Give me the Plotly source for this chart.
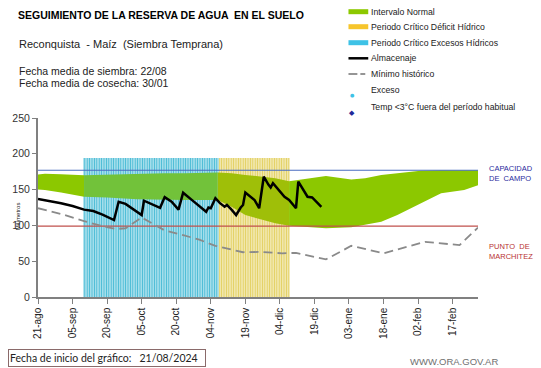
import plotly.graph_objects as go
import pandas as pd

# ---------------- DATA ----------------
START = pd.Timestamp("2024-08-21")
END_DAY = 191  # last day shown (days since START)

# Intervalo normal (band), days since START
band_days = [0, 3, 10, 20, 30, 43, 55, 64, 78, 84, 90, 97, 103, 109, 115, 125, 136, 142, 149, 156, 166, 175, 185, 191]
band_low = [150, 149.5, 146, 140, 139, 136.5, 135.5, 135.5, 135.5, 126, 114.5, 108, 103, 99.5, 98, 96, 97.5, 101, 105, 114.5, 131, 145, 149.5, 156]
band_high = [171, 172, 171.5, 170, 171, 172, 173, 173, 174, 173, 170.5, 168, 166, 161.5, 164.5, 169, 164, 166, 170.5, 173, 176.5, 177, 177, 177]

# Almacenaje
alm_days = [0, 5, 10, 15, 20, 24, 28, 33, 35, 38, 45, 46, 50, 53, 55, 58, 61, 63, 67, 70, 73, 74, 75, 77, 79, 81, 82, 84, 86,
            88, 89, 90, 92, 94, 96, 98, 100, 101, 102, 104, 107, 109, 112, 113, 116, 117, 119, 121, 123]
alm_vals = [137, 134.5, 131, 127, 122, 120, 115, 107.5, 133, 130, 114.5, 134.5, 129, 124.5, 139.5, 133, 122, 145.7, 135, 127, 119, 125, 124, 138, 131, 126, 128.5, 122, 114.5,
            125, 128.5, 146, 141, 135.5, 124, 168, 157, 153, 159, 151, 140, 135.5, 124, 161, 146, 140, 139, 132, 126]

# Mínimo histórico
min_days = [0, 10, 20, 29, 34, 38, 45, 50, 55, 63, 70, 77, 89, 97, 106, 112, 125, 136, 150, 168, 183, 191]
min_vals = [124, 116, 106, 98, 95, 96, 111, 102, 93, 86.5, 80, 71.5, 62.5, 63, 61, 61.7, 52.5, 71.5, 61, 77, 72.5, 97]

# Periodos críticos (days since START)
EXCESO_PERIOD = (19.6, 78.5)
DEFICIT_PERIOD = (78.5, 109.3)
PERIOD_TOP = 194

CAPACIDAD_CAMPO = 177
PUNTO_MARCHITEZ = 99

tick_days = [0, 15, 30, 45, 60, 75, 90, 105, 120, 135, 150, 165, 180]
tick_text = ["21-ago", "05-sep", "20-sep", "05-oct", "20-oct", "04-nov", "19-nov", "04-dic", "19-dic",
             "03-ene", "18-ene", "02-feb", "17-feb"]

# ---------------- HELPERS ----------------
def d(day):
    return START + pd.Timedelta(days=day)

FONT = "Liberation Sans, Arial, sans-serif"
W, H = 541, 368
L, R, T, B = 33, 63, 118, 71
PW, PH = W - L - R, H - T - B

def px(x):
    return (x - L) / PW

def py(y):
    return (H - B - y) / PH

fig = go.Figure()

# Striped critical periods (one bar per period, vertical-line pattern)
DAY_MS = 86400000
for (a, b), col, bg in [(EXCESO_PERIOD, "#45b9d4", "#c4ebf3"), (DEFICIT_PERIOD, "#e2cf5e", "#f7f0c6")]:
    fig.add_trace(go.Bar(x=[d((a + b) / 2)], y=[PERIOD_TOP], width=(b - a) * DAY_MS,
                         marker=dict(color=bg, line=dict(width=0),
                                     pattern=dict(shape="|", fgcolor=col, bgcolor=bg,
                                                  size=2.4, solidity=0.5, fillmode="replace")),
                         hoverinfo="skip"))

# Intervalo normal band, coloured by period
segments = [(0, 20, "#8cc800"),
            (20, 78, "#72c23a"),
            (78, 109, "#9fbf08"),
            (109, END_DAY, "#8cc800")]
for a, b, col in segments:
    idx = [i for i, dd in enumerate(band_days) if a <= dd <= b]
    xs = [d(band_days[i]) for i in idx]
    fig.add_trace(go.Scatter(x=xs, y=[band_low[i] for i in idx], mode="lines",
                             line=dict(width=0), hoverinfo="skip"))
    fig.add_trace(go.Scatter(x=xs, y=[band_high[i] for i in idx], mode="lines",
                             line=dict(width=0), fill="tonexty", fillcolor=col, hoverinfo="skip"))

# Reference lines
fig.add_trace(go.Scatter(x=[d(0), d(END_DAY)], y=[CAPACIDAD_CAMPO] * 2, mode="lines",
                         line=dict(color="#4a6cc0", width=1.2)))
fig.add_trace(go.Scatter(x=[d(0), d(END_DAY)], y=[PUNTO_MARCHITEZ] * 2, mode="lines",
                         line=dict(color="#c0504d", width=1.2)))

# Mínimo histórico
fig.add_trace(go.Scatter(x=[d(v) for v in min_days], y=min_vals, mode="lines",
                         line=dict(color="#8a8a8a", width=1.8, dash="9px,5px")))

# Almacenaje
fig.add_trace(go.Scatter(x=[d(v) for v in alm_days], y=alm_vals, mode="lines",
                         line=dict(color="black", width=2.5)))

# ---------------- LAYOUT ----------------
ann = []
shapes = []

def text(x, y, s, size, color="#1a1a1a", xanchor="left", **kw):
    ann.append(dict(x=px(x), y=py(y), xref="paper", yref="paper", text=s, showarrow=False,
                    xanchor=xanchor, yanchor="middle", font=dict(family=kw.pop("family", FONT), size=size, color=color), **kw))

text(11, 15, "<b>SEGUIMIENTO DE LA RESERVA DE AGUA  EN EL SUELO</b>", 10.5, "black")
text(12, 44, "Reconquista  - Maíz  (Siembra Temprana)", 11, "#222")
text(12, 71, "Fecha media de siembra: 22/08", 10.5, "#222")
text(12, 83, "Fecha media de cosecha: 30/01", 10.5, "#222")

# Legend (manual)
LX0, LX1, TX = 347, 367, 368
items = [(11.7, "Intervalo Normal"), (26.7, "Periodo Crítico Déficit Hídrico"),
         (42.7, "Periodo Crítico Excesos Hídricos"), (58.3, "Almacenaje"),
         (74, "Mínimo histórico"), (90, "Exceso"), (106.5, "Temp <3°C fuera del período habitual")]
for y, s in items:
    text(TX, y, s, 8.7, "#222")

def hline(x0, x1, y, color, width):
    shapes.append(dict(type="line", xref="paper", yref="paper", x0=px(x0), x1=px(x1), y0=py(y), y1=py(y),
                       line=dict(color=color, width=width)))

hline(LX0, LX1, 11.7, "#8cc800", 5)
hline(LX0, LX1, 26.7, "#f6c52c", 5)
hline(LX0, LX1, 42.7, "#3ec2e6", 5)
hline(LX0, LX1, 58.3, "black", 2.5)
hline(LX0, 356, 74, "#8a8a8a", 1.8)
hline(359, 364, 74, "#8a8a8a", 1.8)
ann.append(dict(x=px(356), y=py(90), xref="paper", yref="paper", text="●", showarrow=False,
                font=dict(size=5, color="#3ec2e6", family="DejaVu Sans")))
ann.append(dict(x=px(356), y=py(106.5), xref="paper", yref="paper", text="◆", showarrow=False,
                font=dict(size=7, color="#1f2a9a", family="DejaVu Sans")))

# Right-side labels
ann.append(dict(x=1.02, y=CAPACIDAD_CAMPO - 4, xref="paper", yref="y", text="CAPACIDAD<br>DE  CAMPO",
                showarrow=False, xanchor="left", yanchor="middle", align="left",
                font=dict(family=FONT, size=7.5, color="#2b2b9e")))
ann.append(dict(x=1.02, y=PUNTO_MARCHITEZ - 35, xref="paper", yref="y", text="PUNTO  DE<br>MARCHITEZ",
                showarrow=False, xanchor="left", yanchor="middle", align="left",
                font=dict(family=FONT, size=7.5, color="#b83232")))

# Y axis title
ann.append(dict(x=px(8), y=py(216), xref="paper", yref="paper", text="Milímetros", textangle=-90,
                showarrow=False, font=dict(family=FONT, size=6, color="#222")))

# Bottom box
ann.append(dict(x=px(103), y=py(358), xref="paper", yref="paper",
                text="Fecha de inicio del gráfico:   21/08/2024", showarrow=False,
                width=194, height=14, align="left", xanchor="center", yanchor="middle",
                bordercolor="#8a6a6a", borderwidth=1, borderpad=1,
                font=dict(family="Lato, " + FONT, size=10.5, color="#222")))
text(454, 361, "WWW.ORA.GOV.AR", 9.5, "#707070", xanchor="center")

fig.update_layout(
    width=W, height=H, margin=dict(l=L, r=R, t=T, b=B),
    paper_bgcolor="white", plot_bgcolor="white", showlegend=False,
    barmode="overlay", font=dict(family=FONT),
    annotations=ann, shapes=shapes,
    xaxis=dict(type="date", range=[d(0), d(END_DAY)], tickvals=[d(v) for v in tick_days], ticktext=tick_text,
               tickangle=-90, ticks="outside", ticklen=5, tickcolor="#808080", showline=True,
               linecolor="#808080", linewidth=1.5, showgrid=False, zeroline=False,
               tickfont=dict(family=FONT, size=10, color="#222")),
    yaxis=dict(range=[0, 250], tickvals=[0, 50, 100, 150, 200, 250], ticks="outside", ticklen=4,
               tickcolor="#808080", showline=True, linecolor="#808080", linewidth=2, showgrid=False,
               zeroline=False, tickfont=dict(family=FONT, size=10.5, color="#333")),
)

fig.write_html("out.html", config={"displayModeBar": False},
               post_script="document.body.style.margin='0';document.body.style.padding='0';")
